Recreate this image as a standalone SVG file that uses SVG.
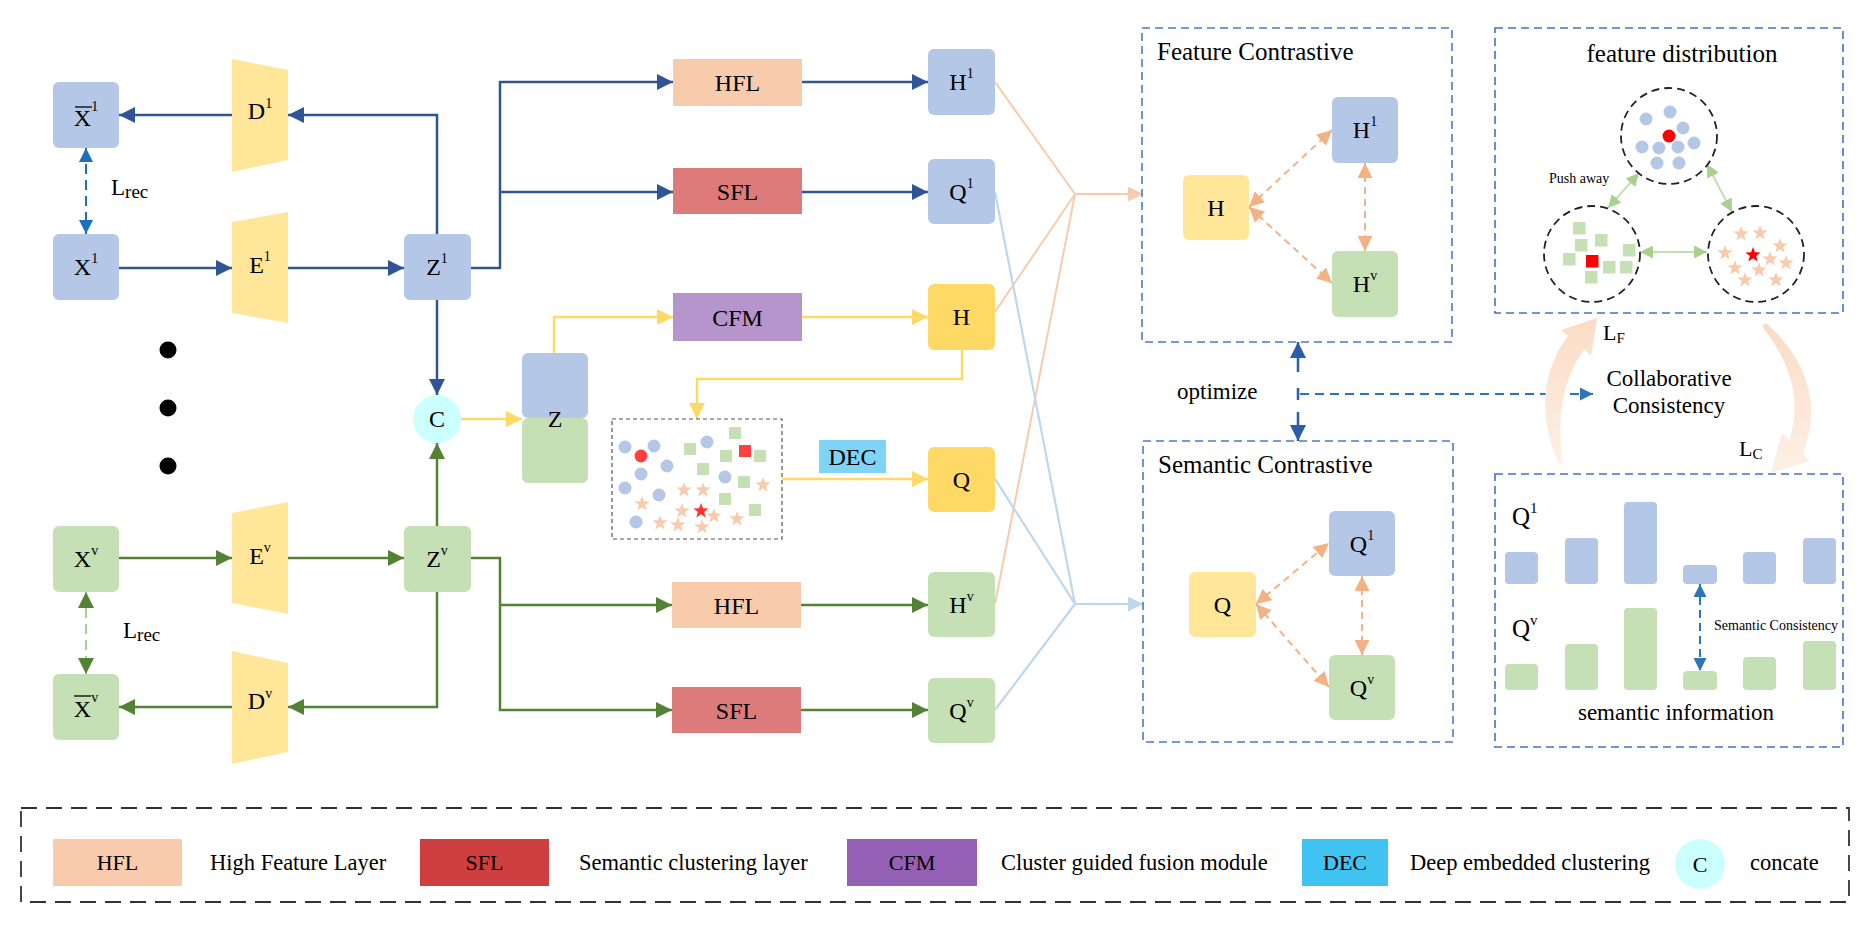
<svg xmlns="http://www.w3.org/2000/svg" xmlns:xlink="http://www.w3.org/1999/xlink" width="1867" height="925" viewBox="0 0 1867 925">
<style>
text{font-family:"Liberation Serif","Times New Roman",serif;fill:#000}
.lbl{font-size:24px;text-anchor:middle}
.sup{font-size:14px}
.bn{fill:#b4c7e7}
.gn{fill:#c5e0b4}
.yt{fill:#ffe699}
.gd{fill:#ffd966}
.lb{stroke:#2f5597;stroke-width:2.5;fill:none}
.lg{stroke:#548235;stroke-width:2.5;fill:none}
.ly{stroke:#ffd966;stroke-width:2.5;fill:none}
.lo{stroke:#f8cbad;stroke-width:2;fill:none}
.lc{stroke:#bdd7ee;stroke-width:2.2;fill:none}
.pd{stroke:#f4b183;stroke-width:2;fill:none;stroke-dasharray:7 5}
.box{fill:none;stroke:#4a7cc2;stroke-width:1.6;stroke-dasharray:8 5}
.dc{fill:none;stroke:#222;stroke-width:1.8;stroke-dasharray:8 5}
.st{fill:#f8cbad}
</style>
<defs>
<marker id="mB" markerUnits="userSpaceOnUse" markerWidth="16" markerHeight="16" refX="16" refY="8" orient="auto-start-reverse" viewBox="0 0 16 16"><path d="M0,0L16,8L0,16Z" fill="#2f5597"/></marker>
<marker id="mG" markerUnits="userSpaceOnUse" markerWidth="16" markerHeight="16" refX="16" refY="8" orient="auto-start-reverse" viewBox="0 0 16 16"><path d="M0,0L16,8L0,16Z" fill="#548235"/></marker>
<marker id="mY" markerUnits="userSpaceOnUse" markerWidth="16" markerHeight="16" refX="16" refY="8" orient="auto-start-reverse" viewBox="0 0 16 16"><path d="M0,0L16,8L0,16Z" fill="#ffd966"/></marker>
<marker id="mO" markerUnits="userSpaceOnUse" markerWidth="15" markerHeight="15" refX="15" refY="7.5" orient="auto-start-reverse" viewBox="0 0 15 15"><path d="M0,0L15,7.5L0,15Z" fill="#f8cbad"/></marker>
<marker id="mC" markerUnits="userSpaceOnUse" markerWidth="15" markerHeight="15" refX="15" refY="7.5" orient="auto-start-reverse" viewBox="0 0 15 15"><path d="M0,0L15,7.5L0,15Z" fill="#bdd7ee"/></marker>
<marker id="mP" markerUnits="userSpaceOnUse" markerWidth="15" markerHeight="15" refX="15" refY="7.5" orient="auto-start-reverse" viewBox="0 0 15 15"><path d="M0,0L15,7.5L0,15Z" fill="#f4b183"/></marker>
<marker id="mL" markerUnits="userSpaceOnUse" markerWidth="14" markerHeight="14" refX="14" refY="7" orient="auto-start-reverse" viewBox="0 0 14 14"><path d="M0,0L14,7L0,14Z" fill="#1f6fbf"/></marker>
<marker id="mD" markerUnits="userSpaceOnUse" markerWidth="16" markerHeight="16" refX="16" refY="8" orient="auto-start-reverse" viewBox="0 0 16 16"><path d="M0,0L16,8L0,16Z" fill="#2a5ea8"/></marker>
<marker id="mF" markerUnits="userSpaceOnUse" markerWidth="13" markerHeight="13" refX="13" refY="6.5" orient="auto-start-reverse" viewBox="0 0 13 13"><path d="M0,0L13,6.5L0,13Z" fill="#a9d18e"/></marker>
<marker id="mS" markerUnits="userSpaceOnUse" markerWidth="13" markerHeight="13" refX="13" refY="6.5" orient="auto-start-reverse" viewBox="0 0 13 13"><path d="M0,0L13,6.5L0,13Z" fill="#2e75b6"/></marker>
<path id="star" d="M0,-8L1.94,-2.67L7.61,-2.47L3.14,1.02L4.7,6.47L0,3.3L-4.7,6.47L-3.14,1.02L-7.61,-2.47L-1.94,-2.67Z"/>
<linearGradient id="peach" x1="0" y1="0" x2="0" y2="1"><stop offset="0" stop-color="#fbdcc5"/><stop offset="1" stop-color="#fdf0e6"/></linearGradient>
</defs>

<!-- connectors -->
<g id="connectors">
<path class="lb" d="M232,115H119" marker-end="url(#mB)"/>
<path class="lb" d="M437,234V115H288" marker-end="url(#mB)"/>
<path class="lb" d="M119,268H232" marker-end="url(#mB)"/>
<path class="lb" d="M288,268H404" marker-end="url(#mB)"/>
<path class="lb" d="M437,300V395" marker-end="url(#mB)"/>
<path class="lb" d="M471,268H500V82H673" marker-end="url(#mB)"/>
<path class="lb" d="M500,192H673" marker-end="url(#mB)"/>
<path class="lb" d="M802,82H928" marker-end="url(#mB)"/>
<path class="lb" d="M802,192H928" marker-end="url(#mB)"/>
<path d="M86,148V234" stroke="#1f6fbf" stroke-width="2" stroke-dasharray="10 6" fill="none" marker-start="url(#mL)" marker-end="url(#mL)"/>

<path class="lg" d="M119,558H232" marker-end="url(#mG)"/>
<path class="lg" d="M288,558H404" marker-end="url(#mG)"/>
<path class="lg" d="M437,526V443" marker-end="url(#mG)"/>
<path class="lg" d="M437,592V707H288" marker-end="url(#mG)"/>
<path class="lg" d="M232,707H119" marker-end="url(#mG)"/>
<path class="lg" d="M471,558H500V710H672" marker-end="url(#mG)"/>
<path class="lg" d="M500,605H672" marker-end="url(#mG)"/>
<path class="lg" d="M801,605H928" marker-end="url(#mG)"/>
<path class="lg" d="M801,710H928" marker-end="url(#mG)"/>
<path d="M86,592V674" stroke="#a9d18e" stroke-width="2" stroke-dasharray="10 6" fill="none" marker-start="url(#mG)" marker-end="url(#mG)"/>

<path class="ly" d="M461,419H522" marker-end="url(#mY)"/>
<path class="ly" d="M554,353V317H673" marker-end="url(#mY)"/>
<path class="ly" d="M802,317H928" marker-end="url(#mY)"/>
<path class="ly" d="M962,350V379H697V419" marker-end="url(#mY)"/>
<path class="ly" d="M782,479H928" marker-end="url(#mY)"/>

<path class="lo" d="M995,82L1075,194M995,312L1075,194M995,604L1075,194"/>
<path class="lo" d="M1075,194H1143" marker-end="url(#mO)"/>
<path class="lc" d="M995,192L1075,604M995,479L1075,604M995,710L1075,604"/>
<path class="lc" d="M1075,604H1143" marker-end="url(#mC)"/>

<path class="pd" d="M1249,207L1332,130" marker-start="url(#mP)" marker-end="url(#mP)"/>
<path class="pd" d="M1249,207L1332,283" marker-start="url(#mP)" marker-end="url(#mP)"/>
<path class="pd" d="M1365,163V251" marker-start="url(#mP)" marker-end="url(#mP)"/>
<path class="pd" d="M1256,604L1329,543" marker-start="url(#mP)" marker-end="url(#mP)"/>
<path class="pd" d="M1256,604L1329,687" marker-start="url(#mP)" marker-end="url(#mP)"/>
<path class="pd" d="M1362,576V655" marker-start="url(#mP)" marker-end="url(#mP)"/>

<path d="M1298,372V342" stroke="#2a5ea8" stroke-width="2.5" fill="none" marker-end="url(#mD)"/>
<path d="M1298,388V400" stroke="#2a5ea8" stroke-width="2.5" fill="none"/>
<path d="M1298,412V441" stroke="#2a5ea8" stroke-width="2.5" fill="none" marker-end="url(#mD)"/>
<path d="M1300,394H1593" stroke="#2e75b6" stroke-width="2" stroke-dasharray="9 6" fill="none" marker-end="url(#mS)"/>

<path d="M1608,208L1639,173" stroke="#c5e0b4" stroke-width="2" fill="none" marker-start="url(#mF)" marker-end="url(#mF)"/>
<path d="M1707,164L1732,212" stroke="#c5e0b4" stroke-width="2" fill="none" marker-start="url(#mF)" marker-end="url(#mF)"/>
<path d="M1640,252H1707" stroke="#c5e0b4" stroke-width="2" fill="none" marker-start="url(#mF)" marker-end="url(#mF)"/>
<path d="M1700,584V671" stroke="#2e75b6" stroke-width="2" stroke-dasharray="8 5" fill="none" marker-start="url(#mS)" marker-end="url(#mS)"/>

<path d="M1558,463Q1528,390 1568,336L1561,330L1597,318L1591,356L1584,349Q1552,395 1563,463Z" fill="url(#peach)"/>
<path d="M1766,323Q1830,380 1803,454L1810,461L1771,473L1782,433L1789,440Q1808,385 1762,326Z" fill="url(#peach)"/>
</g>

<!-- left view 1 -->
<g id="xbar1"><rect class="bn" x="53" y="82" width="66" height="66" rx="6"/><text class="lbl" x="86" y="126">X<tspan class="sup" dy="-15">1</tspan></text><line x1="75" y1="107" x2="92" y2="107" stroke="#000" stroke-width="1.3"/></g>
<g id="x1"><rect class="bn" x="53" y="234" width="66" height="66" rx="6"/><text class="lbl" x="86" y="275">X<tspan class="sup" dy="-12">1</tspan></text></g>
<g id="d1"><path class="yt" d="M232,59L288,70V160L232,172Z"/><text class="lbl" x="260" y="119">D<tspan class="sup" dy="-11">1</tspan></text></g>
<g id="e1"><path class="yt" d="M232,222L288,212V323L232,313Z"/><text class="lbl" x="260" y="273">E<tspan class="sup" dy="-12">1</tspan></text></g>
<g id="z1"><rect class="bn" x="404" y="234" width="67" height="66" rx="6"/><text class="lbl" x="437" y="275">Z<tspan class="sup" dy="-12">1</tspan></text></g>
<g id="dots"><circle cx="168" cy="350" r="8.5"/><circle cx="168" cy="408" r="8.5"/><circle cx="168" cy="466" r="8.5"/></g>
<g id="lrec1"><text x="111" y="195" font-size="23">L<tspan font-size="19" dy="3">rec</tspan></text></g>
<g id="concat"><circle cx="437" cy="419" r="24" fill="#ccffff"/><text class="lbl" x="437" y="427">C</text></g>

<!-- left view v -->
<g id="xv"><rect class="gn" x="53" y="526" width="66" height="66" rx="6"/><text class="lbl" x="86" y="567">X<tspan class="sup" dy="-12">v</tspan></text></g>
<g id="ev"><path class="yt" d="M232,513L288,502V614L232,603Z"/><text class="lbl" x="260" y="564">E<tspan class="sup" dy="-12">v</tspan></text></g>
<g id="zv"><rect class="gn" x="404" y="526" width="67" height="66" rx="6"/><text class="lbl" x="437" y="567">Z<tspan class="sup" dy="-12">v</tspan></text></g>
<g id="dv"><path class="yt" d="M232,651L288,663V752L232,764Z"/><text class="lbl" x="260" y="709">D<tspan class="sup" dy="-11">v</tspan></text></g>
<g id="xbarv"><rect class="gn" x="53" y="674" width="66" height="66" rx="6"/><text class="lbl" x="86" y="717">X<tspan class="sup" dy="-15">v</tspan></text><line x1="74" y1="696" x2="91" y2="696" stroke="#000" stroke-width="1.3"/></g>
<g id="lrecv"><text x="123" y="638" font-size="23">L<tspan font-size="19" dy="3">rec</tspan></text></g>

<!-- middle -->
<g id="z"><rect class="bn" x="522" y="353" width="66" height="65" rx="6"/><rect class="gn" x="522" y="418" width="66" height="65" rx="6"/><text class="lbl" x="555" y="427">Z</text></g>
<g id="hfl1"><rect x="673" y="59" width="129" height="47" fill="#f8cbad"/><text class="lbl" x="737.5" y="91">HFL</text></g>
<g id="sfl1"><rect x="673" y="168" width="129" height="46" fill="#dd7b7a"/><text class="lbl" x="737.5" y="200">SFL</text></g>
<g id="cfm"><rect x="673" y="293" width="129" height="48" fill="#b595cc"/><text class="lbl" x="737.5" y="326">CFM</text></g>
<g id="hflv"><rect x="672" y="582" width="129" height="46" fill="#f8cbad"/><text class="lbl" x="736.5" y="614">HFL</text></g>
<g id="sflv"><rect x="672" y="687" width="129" height="46" fill="#dd7b7a"/><text class="lbl" x="736.5" y="719">SFL</text></g>
<g id="h1"><rect class="bn" x="928" y="49" width="67" height="66" rx="6"/><text class="lbl" x="961.5" y="90">H<tspan class="sup" dy="-12">1</tspan></text></g>
<g id="q1"><rect class="bn" x="928" y="159" width="67" height="65" rx="6"/><text class="lbl" x="961.5" y="200">Q<tspan class="sup" dy="-12">1</tspan></text></g>
<g id="h"><rect class="gd" x="928" y="284" width="67" height="66" rx="6"/><text class="lbl" x="961.5" y="325">H</text></g>
<g id="q"><rect class="gd" x="928" y="447" width="67" height="65" rx="6"/><text class="lbl" x="961.5" y="488">Q</text></g>
<g id="hv"><rect class="gn" x="928" y="572" width="67" height="65" rx="6"/><text class="lbl" x="961.5" y="613">H<tspan class="sup" dy="-12">v</tspan></text></g>
<g id="qv"><rect class="gn" x="928" y="678" width="67" height="65" rx="6"/><text class="lbl" x="961.5" y="719">Q<tspan class="sup" dy="-12">v</tspan></text></g>
<g id="dec"><rect x="819" y="440" width="67" height="33" fill="#7fd4f5"/><text class="lbl" x="852.5" y="465">DEC</text></g>

<g id="scatter">
<rect x="612" y="419" width="170" height="120" fill="#fff" stroke="#555" stroke-width="1.2" stroke-dasharray="4 3"/>
<g class="bn"><circle cx="625" cy="447" r="6.5"/><circle cx="654" cy="446" r="6.5"/><circle cx="667" cy="466" r="6.5"/><circle cx="641" cy="474" r="6.5"/><circle cx="625" cy="488" r="6.5"/><circle cx="659" cy="495" r="6.5"/><circle cx="636" cy="522" r="6.5"/><circle cx="707" cy="442" r="6.5"/><circle cx="725" cy="477" r="6.5"/></g>
<circle cx="641" cy="456" r="6.5" fill="#ff4040"/>
<g class="gn"><rect x="729" y="427" width="12" height="12"/><rect x="684" y="443" width="12" height="12"/><rect x="720" y="450" width="12" height="12"/><rect x="754" y="450" width="12" height="12"/><rect x="697" y="463" width="12" height="12"/><rect x="738" y="476" width="12" height="12"/><rect x="719" y="493" width="12" height="12"/><rect x="749" y="504" width="12" height="12"/></g>
<rect x="739" y="445" width="12" height="12" fill="#ff4040"/>
<g class="st"><use xlink:href="#star" x="684" y="490"/><use xlink:href="#star" x="703" y="490"/><use xlink:href="#star" x="763" y="485"/><use xlink:href="#star" x="642" y="504"/><use xlink:href="#star" x="682" y="511"/><use xlink:href="#star" x="714" y="516"/><use xlink:href="#star" x="737" y="519"/><use xlink:href="#star" x="660" y="523"/><use xlink:href="#star" x="678" y="525"/><use xlink:href="#star" x="702" y="527"/></g>
<use xlink:href="#star" x="701" y="511" fill="#ff3030"/>
</g>

<!-- feature contrastive -->
<g id="featureContrastive">
<rect class="box" x="1142" y="28" width="310" height="314"/>
<text x="1157" y="60" font-size="25">Feature Contrastive</text>
<rect class="yt" x="1183" y="175" width="66" height="65" rx="6"/><text class="lbl" x="1216" y="216">H</text>
<rect class="bn" x="1332" y="97" width="66" height="66" rx="6"/><text class="lbl" x="1365" y="138">H<tspan class="sup" dy="-12">1</tspan></text>
<rect class="gn" x="1332" y="251" width="66" height="66" rx="6"/><text class="lbl" x="1365" y="292">H<tspan class="sup" dy="-12">v</tspan></text>
</g>
<g id="semanticContrastive">
<rect class="box" x="1143" y="441" width="310" height="301"/>
<text x="1158" y="473" font-size="25">Semantic Contrastive</text>
<rect class="yt" x="1189" y="572" width="67" height="65" rx="6"/><text class="lbl" x="1222.5" y="613">Q</text>
<rect class="bn" x="1329" y="511" width="66" height="65" rx="6"/><text class="lbl" x="1362" y="552">Q<tspan class="sup" dy="-12">1</tspan></text>
<rect class="gn" x="1329" y="655" width="66" height="65" rx="6"/><text class="lbl" x="1362" y="696">Q<tspan class="sup" dy="-12">v</tspan></text>
</g>
<g id="optimize"><text x="1177" y="399" font-size="23">optimize</text></g>
<g id="collab"><text x="1669" y="386" font-size="23" text-anchor="middle">Collaborative</text><text x="1669" y="413" font-size="23" text-anchor="middle">Consistency</text></g>
<g id="lf"><text x="1603" y="340" font-size="22">L<tspan font-size="15" dy="3">F</tspan></text></g>
<g id="lc"><text x="1739" y="456" font-size="22">L<tspan font-size="15" dy="3">C</tspan></text></g>

<!-- feature distribution -->
<g id="featureDistribution">
<rect x="1495" y="28" width="348" height="285" fill="none" stroke="#4472c4" stroke-width="1.6" stroke-dasharray="8 5"/>
<text x="1682" y="62" font-size="25" text-anchor="middle">feature distribution</text>
<circle class="dc" cx="1669" cy="136" r="48"/><circle class="dc" cx="1592" cy="254" r="48"/><circle class="dc" cx="1756" cy="254" r="48"/>
<g class="bn"><circle cx="1646" cy="119" r="6.5"/><circle cx="1670" cy="112" r="6.5"/><circle cx="1683" cy="128" r="6.5"/><circle cx="1642" cy="147" r="6.5"/><circle cx="1659" cy="148" r="6.5"/><circle cx="1678" cy="147" r="6.5"/><circle cx="1694" cy="143" r="6.5"/><circle cx="1657" cy="163" r="6.5"/><circle cx="1679" cy="163" r="6.5"/></g>
<circle cx="1669" cy="136" r="6.5" fill="#ff0000"/>
<g class="gn"><rect x="1573" y="222" width="12.5" height="12.5"/><rect x="1575" y="239" width="12.5" height="12.5"/><rect x="1595" y="234" width="12.5" height="12.5"/><rect x="1623" y="244" width="12.5" height="12.5"/><rect x="1563" y="253" width="12.5" height="12.5"/><rect x="1603" y="261" width="12.5" height="12.5"/><rect x="1620" y="261" width="12.5" height="12.5"/><rect x="1585" y="271" width="12.5" height="12.5"/></g>
<rect x="1586" y="255" width="12.5" height="12.5" fill="#ff0000"/>
<g class="st"><use xlink:href="#star" x="1741" y="234"/><use xlink:href="#star" x="1760" y="233"/><use xlink:href="#star" x="1780" y="246"/><use xlink:href="#star" x="1725" y="253"/><use xlink:href="#star" x="1770" y="259"/><use xlink:href="#star" x="1786" y="263"/><use xlink:href="#star" x="1735" y="268"/><use xlink:href="#star" x="1759" y="270"/><use xlink:href="#star" x="1745" y="280"/><use xlink:href="#star" x="1776" y="280"/></g>
<use xlink:href="#star" x="1753" y="255" fill="#ff0000"/>
<text x="1549" y="183" font-size="14">Push away</text>
</g>

<!-- semantic information -->
<g id="semanticInformation">
<rect x="1495" y="474" width="348" height="273" fill="none" stroke="#4472c4" stroke-width="1.6" stroke-dasharray="8 5"/>
<text x="1512" y="525" font-size="25">Q<tspan font-size="15" dy="-12">1</tspan></text>
<text x="1512" y="637" font-size="25">Q<tspan font-size="15" dy="-12">v</tspan></text>
<g class="bn"><rect x="1505" y="552" width="33" height="32" rx="4"/><rect x="1565" y="538" width="33" height="46" rx="4"/><rect x="1624" y="502" width="33" height="82" rx="4"/><rect x="1683" y="565" width="34" height="19" rx="4"/><rect x="1743" y="552" width="33" height="32" rx="4"/><rect x="1803" y="538" width="33" height="46" rx="4"/></g>
<g class="gn"><rect x="1505" y="664" width="33" height="26" rx="4"/><rect x="1565" y="644" width="33" height="46" rx="4"/><rect x="1624" y="608" width="33" height="82" rx="4"/><rect x="1683" y="671" width="34" height="19" rx="4"/><rect x="1743" y="657" width="33" height="33" rx="4"/><rect x="1803" y="641" width="33" height="49" rx="4"/></g>
<text x="1714" y="630" font-size="14">Semantic Consistency</text>
<text x="1676" y="720" font-size="23" text-anchor="middle">semantic information</text>
</g>

<!-- legend -->
<g id="legend">
<rect x="21" y="808" width="1828" height="94" fill="none" stroke="#333" stroke-width="1.8" stroke-dasharray="16 9"/>
<rect x="53" y="839" width="129" height="47" fill="#f8cbad"/><text x="117.5" y="870" font-size="22" text-anchor="middle">HFL</text>
<text x="210" y="870" font-size="22.5">High Feature Layer</text>
<rect x="420" y="839" width="129" height="47" fill="#cf3f3f"/><text x="484.5" y="870" font-size="22" text-anchor="middle">SFL</text>
<text x="579" y="870" font-size="22.5">Semantic clustering layer</text>
<rect x="847" y="839" width="130" height="47" fill="#9460b5"/><text x="912" y="870" font-size="22" text-anchor="middle">CFM</text>
<text x="1001" y="870" font-size="22.5">Cluster guided fusion module</text>
<rect x="1302" y="839" width="86" height="47" fill="#40c3f0"/><text x="1345" y="870" font-size="22" text-anchor="middle">DEC</text>
<text x="1410" y="870" font-size="22.5">Deep embedded clustering</text>
<ellipse cx="1700" cy="864" rx="25" ry="25" fill="#ccffff"/><text x="1700" y="872" font-size="22" text-anchor="middle">C</text>
<text x="1750" y="870" font-size="22.5">concate</text>
</g>
</svg>
